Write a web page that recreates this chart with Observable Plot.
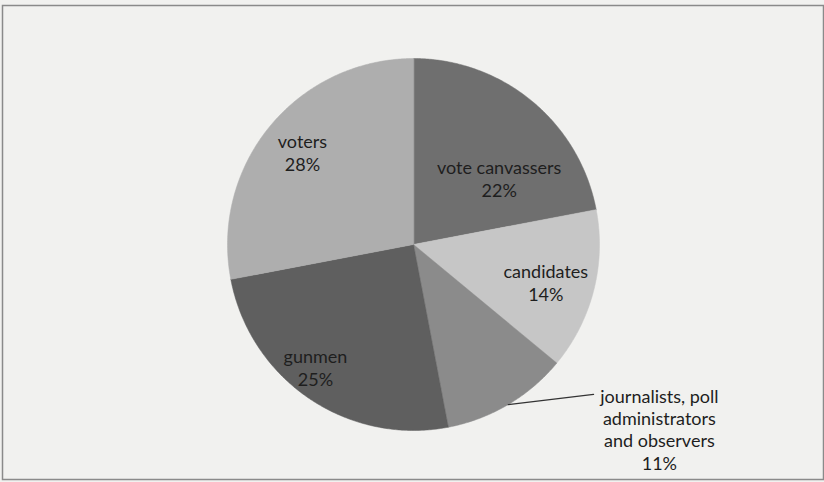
<!DOCTYPE html>
<html>
<head>
<meta charset="utf-8">
<script src="https://cdn.jsdelivr.net/npm/d3@7"></script>
<script src="https://cdn.jsdelivr.net/npm/@observablehq/plot@0.6"></script>
<style>
  html, body { margin: 0; padding: 0; background: #f1f1ef; }
  #chart svg { display: block; }
</style>
</head>
<body>
<div id="chart"></div>
<script>
// ---- data ----
const categories = ["vote canvassers", "candidates", "journalists, poll administrators and observers", "gunmen", "voters"];
const shares = [22, 14, 11, 25, 28];
const labelLines = [
  ["vote canvassers"],
  ["candidates"],
  ["journalists, poll", "administrators", "and observers"],
  ["gunmen"],
  ["voters"]
];
const sliceColors = ["#6f6f6f", "#c6c6c6", "#8b8b8b", "#5f5f5f", "#aeaeae"];
// label placement: angle (deg, clockwise from 12 o'clock) and radius fraction
const labelAngle = [52.2, 106.0, 126.9, 218.6, 309.7];
const labelRadius = [0.583, 0.74, 1.653, 0.845, 0.776];
const outsideLabel = [false, false, true, false, false];

// ---- layout ----
const W = 824, H = 482;
const cx = 413, cy = 244, R = 186;

const total = d3.sum(shares);
let acc = 0;
const slices = categories.map((c, i) => {
  const a0 = acc / total * 2 * Math.PI;
  acc += shares[i];
  const a1 = acc / total * 2 * Math.PI;
  return {name: c, value: shares[i], a0, a1, color: sliceColors[i], i};
});

// polygon vertices of each slice in unit-radius data space (y up)
const polyPts = [];
for (const s of slices) {
  polyPts.push({name: s.name, color: s.color, x: 0, y: 0});
  const n = Math.max(2, Math.ceil((s.a1 - s.a0) / (Math.PI / 360)));
  for (let k = 0; k <= n; k++) {
    const a = s.a0 + (s.a1 - s.a0) * k / n;
    polyPts.push({name: s.name, color: s.color, x: Math.sin(a), y: Math.cos(a)});
  }
}

const labels = slices.map((s, i) => {
  const a = labelAngle[i] * Math.PI / 180;
  return {
    x: labelRadius[i] * Math.sin(a),
    y: labelRadius[i] * Math.cos(a),
    text: [...labelLines[i], s.value + "%"].join("\n"),
    outside: outsideLabel[i]
  };
});

// leader line for outside label: from slice edge at mid-angle to label's left edge
const leader = [];
slices.forEach((s, i) => {
  if (!outsideLabel[i]) return;
  const m = (s.a0 + s.a1) / 2;
  leader.push({g: i, x: Math.sin(m), y: Math.cos(m)});
  leader.push({g: i, x: 0.968, y: -0.806});
});

const chart = Plot.plot({
  width: W,
  height: H,
  margin: 0,
  style: {background: "#f1f1ef", fontFamily: "Lato, 'Open Sans', sans-serif"},
  x: {domain: [-cx / R, (W - cx) / R], axis: null},
  y: {domain: [-(H - cy) / R, cy / R], axis: null},
  color: {type: "identity"},
  marks: [
    Plot.frame({stroke: "#8a8a8a", strokeWidth: 1.5, insetTop: 5, insetLeft: 2, insetBottom: 3, insetRight: 1}),
    Plot.line(polyPts, {x: "x", y: "y", z: "name", fill: "color", stroke: "color", strokeWidth: 0.5, curve: "linear-closed"}),
    Plot.line(leader, {x: "x", y: "y", z: "g", stroke: "#333", strokeWidth: 1.2}),
    Plot.text(labels.filter(d => !d.outside), {x: "x", y: "y", text: "text", fontSize: 18, lineHeight: 1.27, fill: "#1e1e1e"}),
    Plot.text(labels.filter(d => d.outside), {x: "x", y: "y", text: "text", fontSize: 18, lineHeight: 1.24, fill: "#1e1e1e"})
  ]
});
document.getElementById("chart").appendChild(chart);
</script>
</body>
</html>
